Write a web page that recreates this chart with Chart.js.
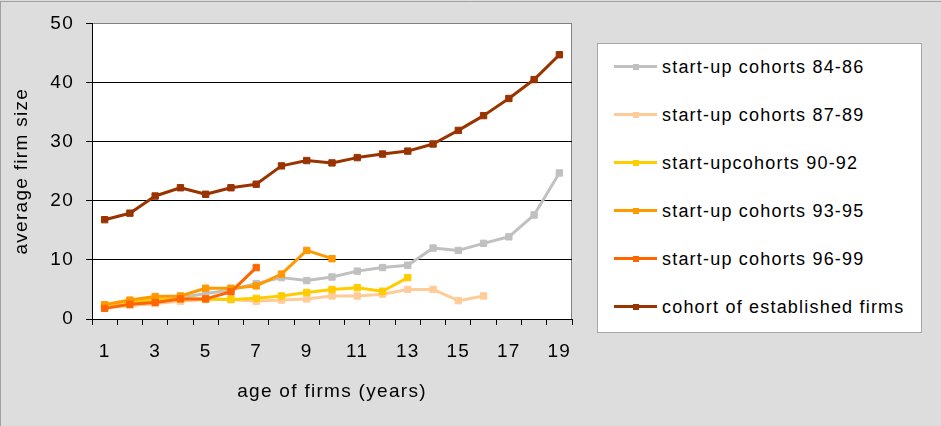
<!DOCTYPE html>
<html>
<head>
<meta charset="utf-8">
<script src="https://cdn.jsdelivr.net/npm/chart.js@4.4.0/dist/chart.umd.min.js"></script>
<style>
    body { margin: 0; background: #dddddd; }
    #wrap { position: relative; width: 941px; height: 426px; }
    #grafico { position: absolute; left: 0; top: 0; }
    #leyenda {
        position: absolute; left: 597px; top: 43px; width: 323px; height: 288px;
        background: #fff; border: 1px solid #a6a6a6;
        font-family: "Liberation Sans", Arial, sans-serif; font-size: 18px;
        letter-spacing: 1.2px; color: #000;
    }
    .item { position: absolute; left: 0; width: 100%; height: 24px; line-height: 24px; white-space: nowrap; }
    .linea { position: absolute; left: 16px; top: 10.5px; width: 43px; height: 3px; }
    .marca { position: absolute; left: 18.5px; top: -1.5px; width: 6px; height: 6px; }
    .texto { position: absolute; left: 64px; top: 0; }
</style>
</head>
<body>
<div id="wrap">
    <canvas id="grafico" width="941" height="426"></canvas>
    <div id="leyenda"></div>
</div>
<script>
// Datos
const edades = ['1','2','3','4','5','6','7','8','9','10','11','12','13','14','15','16','17','18','19'];

const cohortes8486 = [2.0, 2.6, 3.2, 3.6, 4.3, 4.9, 6.0, 7.0, 6.5, 7.1, 8.1, 8.7, 9.1, 12.0, 11.6, 12.8, 13.9, 17.6, 24.7];
const cohortes8789 = [1.9, 2.3, 2.6, 3.0, 3.3, 3.3, 3.0, 3.2, 3.4, 3.9, 3.9, 4.2, 5.0, 5.0, 3.1, 3.9];
const cohortes9092 = [2.4, 3.0, 3.3, 3.4, 3.4, 3.3, 3.5, 3.9, 4.5, 5.0, 5.3, 4.7, 7.0];
const cohortes9395 = [2.4, 3.2, 3.8, 3.9, 5.2, 5.2, 5.6, 7.6, 11.6, 10.2];
const cohortes9699 = [1.8, 2.5, 2.8, 3.4, 3.4, 4.6, 8.7];
const establecidas = [16.8, 17.9, 20.8, 22.2, 21.1, 22.2, 22.8, 25.9, 26.8, 26.4, 27.3, 27.9, 28.4, 29.6, 31.9, 34.4, 37.3, 40.5, 44.7];

const nombres = [
    'start-up cohorts 84-86',
    'start-up cohorts 87-89',
    'start-upcohorts 90-92',
    'start-up cohorts 93-95',
    'start-up cohorts 96-99',
    'cohort of established firms'
];
const colores = ['#c0c0c0', '#ffcc99', '#ffcc00', '#ff9900', '#ff6600', '#993300'];
const series = [cohortes8486, cohortes8789, cohortes9092, cohortes9395, cohortes9699, establecidas];

const fuente = '"Liberation Sans", Arial, sans-serif';

// Fondo gris, marco y área de trazado blanca
const fondo = {
    id: 'fondo',
    beforeDraw(chart) {
        const { ctx, chartArea: a } = chart;
        // el texto del original va algo espaciado
        ctx.letterSpacing = '1.3px';
        ctx.save();
        ctx.fillStyle = '#dddddd';
        ctx.fillRect(0, 0, chart.width, chart.height);
        ctx.strokeStyle = '#a0a0a0';
        ctx.lineWidth = 1;
        ctx.beginPath();
        ctx.moveTo(0, 1.5); ctx.lineTo(chart.width, 1.5);
        ctx.moveTo(0.5, 1); ctx.lineTo(0.5, chart.height);
        ctx.stroke();
        ctx.fillStyle = '#ffffff';
        ctx.fillRect(a.left, a.top, a.right - a.left, a.bottom - a.top);
        ctx.strokeStyle = '#808080';
        ctx.strokeRect(Math.round(a.left) + 0.5, Math.round(a.top) + 0.5,
                       Math.round(a.right - a.left) - 1, Math.round(a.bottom - a.top));
        ctx.restore();
    }
};

const datasets = series.map((valores, i) => ({
    label: nombres[i],
    data: valores,
    borderColor: colores[i],
    backgroundColor: colores[i],
    pointBackgroundColor: colores[i],
    pointBorderColor: colores[i],
    pointStyle: 'rect',
    pointRadius: 4.5,
    pointBorderWidth: 1,
    borderWidth: 3,
    borderJoinStyle: 'round',
    borderCapStyle: 'round',
    tension: 0,
    order: series.length - i
}));

new Chart(document.getElementById('grafico'), {
    type: 'line',
    data: { labels: edades, datasets },
    options: {
        responsive: false,
        animation: false,
        layout: { padding: { top: 21, right: 369, left: 0, bottom: 0 } },
        plugins: { legend: { display: false }, tooltip: { enabled: false } },
        scales: {
            x: {
                offset: true,
                grid: { display: true, drawOnChartArea: false, offset: true, tickLength: 6, tickColor: '#000' },
                border: { color: '#000' },
                ticks: {
                    color: '#000', font: { family: fuente, size: 19 }, padding: 15,
                    autoSkip: false, maxRotation: 0,
                    callback(v, i) { return i % 2 === 0 ? this.getLabelForValue(v) : ''; }
                },
                title: {
                    display: true, text: 'age of firms (years)', color: '#000',
                    font: { family: fuente, size: 19 }, padding: { top: 0, bottom: 23 }
                },
                afterFit(s) { s.height = 107; }
            },
            y: {
                min: 0, max: 50,
                ticks: { stepSize: 10, color: '#000', font: { family: fuente, size: 19 }, padding: 12 },
                grid: {
                    color: c => (c.tick && c.tick.value === 50) ? 'rgba(0,0,0,0)' : '#000',
                    tickLength: 6, tickColor: '#000'
                },
                border: { color: '#000' },
                title: {
                    display: true, text: 'average firm size', color: '#000',
                    font: { family: fuente, size: 19 }, padding: { top: 10, bottom: 0 }
                },
                afterFit(s) { s.width = 92; }
            }
        }
    },
    plugins: [fondo]
});

// Leyenda en HTML
const leyenda = document.getElementById('leyenda');
nombres.forEach((nombre, i) => {
    const item = document.createElement('div');
    item.className = 'item';
    item.style.top = (10.7 + i * 48) + 'px';
    item.innerHTML = `
        <div class="linea" style="background:${colores[i]}"><div class="marca" style="background:${colores[i]}"></div></div>
        <span class="texto">${nombre}</span>
    `;
    leyenda.appendChild(item);
});
</script>
</body>
</html>
